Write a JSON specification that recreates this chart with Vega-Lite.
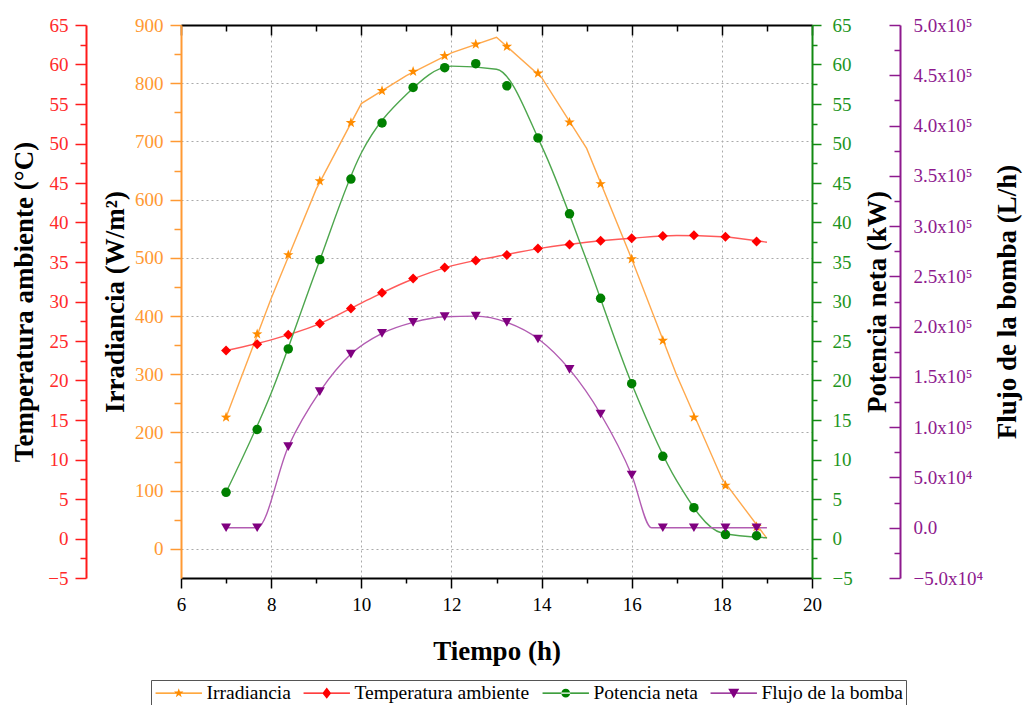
{
  "$schema": "https://vega.github.io/schema/vega-lite/v6.json",
  "width": 631,
  "height": 553,
  "autosize": {"type": "none"},
  "padding": {"left": 181, "top": 25, "right": 211, "bottom": 127},
  "background": "white",
  "config": {"view": {"stroke": null}, "font": "Liberation Serif",
    "axis": {"labelFont": "Liberation Serif", "titleFont": "Liberation Serif", "labelFontSize": 19},
    "legend": {"labelFont": "Liberation Serif"}},
  "datasets": {
    "lines": [
      {"serie": "Irradiancia", "t": 7, "v": 226}, {"serie": "Irradiancia", "t": 8, "v": 430}, {"serie": "Irradiancia", "t": 9, "v": 618},
      {"serie": "Irradiancia", "t": 10, "v": 765}, {"serie": "Irradiancia", "t": 11, "v": 813}, {"serie": "Irradiancia", "t": 12, "v": 852},
      {"serie": "Irradiancia", "t": 13, "v": 879}, {"serie": "Irradiancia", "t": 14, "v": 810}, {"serie": "Irradiancia", "t": 15, "v": 688},
      {"serie": "Irradiancia", "t": 16, "v": 498}, {"serie": "Irradiancia", "t": 17, "v": 298}, {"serie": "Irradiancia", "t": 18, "v": 121},
      {"serie": "Irradiancia", "t": 19, "v": 18},
      {"serie": "Temperatura ambiente", "t": 7, "v": 23.8}, {"serie": "Temperatura ambiente", "t": 8, "v": 25.15}, {"serie": "Temperatura ambiente", "t": 9, "v": 27.0},
      {"serie": "Temperatura ambiente", "t": 10, "v": 29.8}, {"serie": "Temperatura ambiente", "t": 11, "v": 32.5}, {"serie": "Temperatura ambiente", "t": 12, "v": 34.5},
      {"serie": "Temperatura ambiente", "t": 13, "v": 35.7}, {"serie": "Temperatura ambiente", "t": 14, "v": 36.75}, {"serie": "Temperatura ambiente", "t": 15, "v": 37.5},
      {"serie": "Temperatura ambiente", "t": 16, "v": 38.0}, {"serie": "Temperatura ambiente", "t": 17, "v": 38.35}, {"serie": "Temperatura ambiente", "t": 18, "v": 38.2},
      {"serie": "Temperatura ambiente", "t": 19, "v": 37.5},
      {"serie": "Potencia neta", "t": 7, "v": 5.85}, {"serie": "Potencia neta", "t": 8, "v": 18.4}, {"serie": "Potencia neta", "t": 9, "v": 34.0},
      {"serie": "Potencia neta", "t": 10, "v": 48.8}, {"serie": "Potencia neta", "t": 11, "v": 56.2}, {"serie": "Potencia neta", "t": 12, "v": 59.8},
      {"serie": "Potencia neta", "t": 13, "v": 59.4}, {"serie": "Potencia neta", "t": 14, "v": 49.7}, {"serie": "Potencia neta", "t": 15, "v": 35.2},
      {"serie": "Potencia neta", "t": 16, "v": 19.6}, {"serie": "Potencia neta", "t": 17, "v": 7.3}, {"serie": "Potencia neta", "t": 18, "v": 0.7},
      {"serie": "Potencia neta", "t": 19, "v": 0.1},
      {"serie": "Flujo de la bomba", "t": 7, "v": 0}, {"serie": "Flujo de la bomba", "t": 7.69, "v": 0}, {"serie": "Flujo de la bomba", "t": 8.38, "v": 80600},
      {"serie": "Flujo de la bomba", "t": 9.08, "v": 135300}, {"serie": "Flujo de la bomba", "t": 9.77, "v": 172700}, {"serie": "Flujo de la bomba", "t": 10.46, "v": 193300},
      {"serie": "Flujo de la bomba", "t": 11.15, "v": 204300}, {"serie": "Flujo de la bomba", "t": 11.85, "v": 209900}, {"serie": "Flujo de la bomba", "t": 12.54, "v": 210500},
      {"serie": "Flujo de la bomba", "t": 13.23, "v": 204300}, {"serie": "Flujo de la bomba", "t": 13.93, "v": 187700}, {"serie": "Flujo de la bomba", "t": 14.62, "v": 157500},
      {"serie": "Flujo de la bomba", "t": 15.31, "v": 113100}, {"serie": "Flujo de la bomba", "t": 16.0, "v": 52400}, {"serie": "Flujo de la bomba", "t": 16.44, "v": 0},
      {"serie": "Flujo de la bomba", "t": 19, "v": 0}
    ],
    "markers": [
      {"serie": "Irradiancia", "t": 7, "v": 226}, {"serie": "Irradiancia", "t": 7.69, "v": 369}, {"serie": "Irradiancia", "t": 8.38, "v": 505},
      {"serie": "Irradiancia", "t": 9.08, "v": 632}, {"serie": "Irradiancia", "t": 9.77, "v": 732}, {"serie": "Irradiancia", "t": 10.46, "v": 787},
      {"serie": "Irradiancia", "t": 11.15, "v": 820}, {"serie": "Irradiancia", "t": 11.85, "v": 847}, {"serie": "Irradiancia", "t": 12.54, "v": 867},
      {"serie": "Irradiancia", "t": 13.23, "v": 863}, {"serie": "Irradiancia", "t": 13.92, "v": 817}, {"serie": "Irradiancia", "t": 14.62, "v": 733},
      {"serie": "Irradiancia", "t": 15.31, "v": 627}, {"serie": "Irradiancia", "t": 16.0, "v": 498}, {"serie": "Irradiancia", "t": 16.69, "v": 358},
      {"serie": "Irradiancia", "t": 17.38, "v": 226}, {"serie": "Irradiancia", "t": 18.08, "v": 109}, {"serie": "Irradiancia", "t": 18.77, "v": 38},
      {"serie": "Temperatura ambiente", "t": 7, "v": 23.8}, {"serie": "Temperatura ambiente", "t": 7.69, "v": 24.6}, {"serie": "Temperatura ambiente", "t": 8.38, "v": 25.8},
      {"serie": "Temperatura ambiente", "t": 9.08, "v": 27.2}, {"serie": "Temperatura ambiente", "t": 9.77, "v": 29.1}, {"serie": "Temperatura ambiente", "t": 10.46, "v": 31.1},
      {"serie": "Temperatura ambiente", "t": 11.15, "v": 32.9}, {"serie": "Temperatura ambiente", "t": 11.85, "v": 34.3}, {"serie": "Temperatura ambiente", "t": 12.54, "v": 35.2},
      {"serie": "Temperatura ambiente", "t": 13.23, "v": 35.9}, {"serie": "Temperatura ambiente", "t": 13.92, "v": 36.7}, {"serie": "Temperatura ambiente", "t": 14.62, "v": 37.2},
      {"serie": "Temperatura ambiente", "t": 15.31, "v": 37.7}, {"serie": "Temperatura ambiente", "t": 16.0, "v": 38.0}, {"serie": "Temperatura ambiente", "t": 16.69, "v": 38.3},
      {"serie": "Temperatura ambiente", "t": 17.38, "v": 38.4}, {"serie": "Temperatura ambiente", "t": 18.08, "v": 38.2}, {"serie": "Temperatura ambiente", "t": 18.77, "v": 37.6},
      {"serie": "Potencia neta", "t": 7, "v": 5.85}, {"serie": "Potencia neta", "t": 7.69, "v": 13.8}, {"serie": "Potencia neta", "t": 8.38, "v": 24.0},
      {"serie": "Potencia neta", "t": 9.08, "v": 35.3}, {"serie": "Potencia neta", "t": 9.77, "v": 45.5}, {"serie": "Potencia neta", "t": 10.46, "v": 52.6},
      {"serie": "Potencia neta", "t": 11.15, "v": 57.1}, {"serie": "Potencia neta", "t": 11.85, "v": 59.6}, {"serie": "Potencia neta", "t": 12.54, "v": 60.1},
      {"serie": "Potencia neta", "t": 13.23, "v": 57.3}, {"serie": "Potencia neta", "t": 13.92, "v": 50.7}, {"serie": "Potencia neta", "t": 14.62, "v": 41.1},
      {"serie": "Potencia neta", "t": 15.31, "v": 30.4}, {"serie": "Potencia neta", "t": 16.0, "v": 19.6}, {"serie": "Potencia neta", "t": 16.69, "v": 10.4},
      {"serie": "Potencia neta", "t": 17.38, "v": 3.9}, {"serie": "Potencia neta", "t": 18.08, "v": 0.5}, {"serie": "Potencia neta", "t": 18.77, "v": 0.35},
      {"serie": "Flujo de la bomba", "t": 7, "v": 0}, {"serie": "Flujo de la bomba", "t": 7.69, "v": 0}, {"serie": "Flujo de la bomba", "t": 8.38, "v": 80600},
      {"serie": "Flujo de la bomba", "t": 9.08, "v": 135300}, {"serie": "Flujo de la bomba", "t": 9.77, "v": 172700}, {"serie": "Flujo de la bomba", "t": 10.46, "v": 193300},
      {"serie": "Flujo de la bomba", "t": 11.15, "v": 204300}, {"serie": "Flujo de la bomba", "t": 11.85, "v": 209900}, {"serie": "Flujo de la bomba", "t": 12.54, "v": 210500},
      {"serie": "Flujo de la bomba", "t": 13.23, "v": 204300}, {"serie": "Flujo de la bomba", "t": 13.92, "v": 187700}, {"serie": "Flujo de la bomba", "t": 14.62, "v": 157500},
      {"serie": "Flujo de la bomba", "t": 15.31, "v": 113100}, {"serie": "Flujo de la bomba", "t": 16.0, "v": 52400}, {"serie": "Flujo de la bomba", "t": 16.69, "v": 0},
      {"serie": "Flujo de la bomba", "t": 17.38, "v": 0}, {"serie": "Flujo de la bomba", "t": 18.08, "v": 0}, {"serie": "Flujo de la bomba", "t": 18.77, "v": 0}
    ]
  },
  "layer": [
    {
      "layer": [
        {
          "data": {"name": "lines"},
          "transform": [{"filter": "datum.serie === 'Irradiancia'"}],
          "mark": {"type": "line", "interpolate": "linear", "stroke": "#FFA94D", "strokeWidth": 1.4},
          "encoding": {
            "x": {"field": "t", "type": "quantitative", "scale": {"domain": [6, 20], "nice": false, "zero": false},
              "axis": {"orient": "bottom", "values": [6,7,8,9,10,11,12,13,14,15,16,17,18,19,20],
                "labelExpr": "datum.value % 2 === 0 ? datum.label : ''",
                "tickSize": {"condition": {"test": "datum.value % 2 === 0", "value": 10}, "value": 5},
                "tickColor": "black", "tickWidth": 1.5, "domainColor": "black", "domainWidth": 2,
                "labelFont": "Liberation Serif", "labelFontSize": 19, "labelColor": "black", "labelPadding": 7,
                "labelOverlap": false, "labelFlush": false,
                "title": "Tiempo (h)", "titleFont": "Liberation Serif", "titleFontSize": 27, "titleFontWeight": "bold", "titleColor": "black", "titlePadding": 24,
                "grid": true, "gridColor": "#AAAAAA", "gridDash": [2, 3], "gridWidth": 1,
                "gridOpacity": {"condition": {"test": "datum.value % 2 === 0 && datum.value > 6 && datum.value < 20", "value": 1}, "value": 0}}},
            "y": {"field": "v", "type": "quantitative", "scale": {"domain": [-50, 900], "nice": false, "zero": false},
              "axis": {"orient": "left", "offset": 0, "values": [0,50,100,150,200,250,300,350,400,450,500,550,600,650,700,750,800,850,900],
                "labelExpr": "datum.value % 100 === 0 ? datum.label : ''",
                "tickSize": {"condition": {"test": "datum.value % 100 === 0", "value": 11}, "value": 7},
                "tickColor": "#FF9933", "tickWidth": 1.5, "domainColor": "#FF9933", "domainWidth": 2,
                "labelFont": "Liberation Serif", "labelFontSize": 19, "labelColor": "#FF9933", "labelPadding": 7, "labelOverlap": false,
                "title": "Irradiancia (W/m²)", "titleFont": "Liberation Serif", "titleFontSize": 27, "titleFontWeight": "bold", "titleColor": "black", "titlePadding": 5,
                "grid": true, "gridColor": "#AAAAAA", "gridDash": [2, 3], "gridWidth": 1,
                "gridOpacity": {"condition": {"test": "datum.value % 100 === 0 && datum.value < 900", "value": 1}, "value": 0}}}
          }
        },
        {
          "data": {"name": "markers"},
          "transform": [{"filter": "datum.serie === 'Irradiancia'"}],
          "mark": {"type": "point", "filled": true, "opacity": 1, "color": "#FF8C00", "size": 120,
            "shape": "M0,-1L0.235,-0.324L0.951,-0.309L0.38,0.124L0.588,0.809L0,0.4L-0.588,0.809L-0.38,0.124L-0.951,-0.309L-0.235,-0.324Z"},
          "encoding": {
            "x": {"field": "t", "type": "quantitative", "scale": {"domain": [6, 20], "nice": false, "zero": false}, "axis": null},
            "y": {"field": "v", "type": "quantitative", "scale": {"domain": [-50, 900], "nice": false, "zero": false}, "axis": null}
          }
        },
        {
          "data": {"name": "markers"},
          "transform": [{"filter": "datum.serie === 'Irradiancia'"}],
          "mark": {"type": "point", "filled": true, "opacity": 0},
          "encoding": {
            "x": {"field": "t", "type": "quantitative", "scale": {"domain": [6, 20], "nice": false, "zero": false}, "axis": null},
            "y": {"field": "v", "type": "quantitative", "scale": {"domain": [-50, 900], "nice": false, "zero": false}, "axis": null},
            "color": {"field": "serie", "type": "nominal",
              "scale": {"domain": ["Irradiancia", "Temperatura ambiente", "Potencia neta", "Flujo de la bomba"], "range": ["#FF8C00", "#FF0000", "#008000", "#800080"]},
              "legend": {"orient": "none", "legendX": -30, "legendY": 655, "direction": "horizontal", "title": null,
                "symbolSize": 256, "symbolOpacity": 1, "symbolOffset": 15, "labelOffset": 18, "labelFont": "Liberation Serif", "labelFontSize": 19.5, "labelColor": "black",
                "labelLimit": 400, "columnPadding": 9, "padding": 3, "strokeColor": "#555555", "fillColor": "white"}},
            "shape": {"field": "serie", "type": "nominal",
              "scale": {"domain": ["Irradiancia", "Temperatura ambiente", "Potencia neta", "Flujo de la bomba"],
                "range": ["M-2.9,-0.08H2.9V0.08H-2.9ZM0,-0.62L0.146,-0.2L0.59,-0.19L0.236,0.077L0.365,0.5L0,0.248L-0.365,0.5L-0.236,0.077L-0.59,-0.19L-0.146,-0.2Z",
                  "M-2.9,-0.08H2.9V0.08H-2.9ZM0,-0.69L0.55,0L0,0.69L-0.55,0Z",
                  "M-2.9,-0.08H2.9V0.08H-2.9ZM-0.55,0A0.55,0.55,0,1,0,0.55,0A0.55,0.55,0,1,0,-0.55,0Z",
                  "M-2.9,-0.08H2.9V0.08H-2.9ZM-0.69,-0.55L0.69,-0.55L0,0.65Z"]},
              "legend": {"orient": "none", "legendX": -30, "legendY": 655, "direction": "horizontal", "title": null,
                "symbolSize": 256, "symbolOpacity": 1, "symbolOffset": 15, "labelOffset": 18, "labelFont": "Liberation Serif", "labelFontSize": 19.5, "labelColor": "black",
                "labelLimit": 400, "columnPadding": 9, "padding": 3, "strokeColor": "#555555", "fillColor": "white"}}
          }
        }
      ],
      "resolve": {"axis": {"x": "independent", "y": "independent"}}
    },
    {
      "layer": [
        {
          "data": {"name": "lines"},
          "transform": [{"filter": "datum.serie === 'Temperatura ambiente'"}],
          "mark": {"type": "line", "interpolate": "monotone", "stroke": "#FF5A5A", "strokeWidth": 1.4},
          "encoding": {
            "x": {"field": "t", "type": "quantitative", "scale": {"domain": [6, 20], "nice": false, "zero": false},
              "axis": {"orient": "top", "values": [6,7,8,9,10,11,12,13,14,15,16,17,18,19,20], "labels": false, "title": null, "grid": false,
                "tickSize": {"condition": {"test": "datum.value % 2 === 0", "value": -10}, "value": -6},
                "tickColor": "black", "tickWidth": 1.5, "domainColor": "black", "domainWidth": 2}},
            "y": {"field": "v", "type": "quantitative", "scale": {"domain": [-5, 65], "nice": false, "zero": false},
              "axis": {"orient": "left", "offset": 95, "values": [-5,-2.5,0,2.5,5,7.5,10,12.5,15,17.5,20,22.5,25,27.5,30,32.5,35,37.5,40,42.5,45,47.5,50,52.5,55,57.5,60,62.5,65],
                "labelExpr": "datum.value % 5 === 0 ? datum.label : ''",
                "tickSize": {"condition": {"test": "datum.value % 5 === 0", "value": 11}, "value": 6},
                "tickColor": "#FF1A1A", "tickWidth": 1.5, "domainColor": "#FF1A1A", "domainWidth": 2,
                "labelFont": "Liberation Serif", "labelFontSize": 19, "labelColor": "#FF2A2A", "labelPadding": 7, "labelOverlap": false,
                "title": "Temperatura ambiente (°C)", "titleFont": "Liberation Serif", "titleFontSize": 27, "titleFontWeight": "bold", "titleColor": "black", "titlePadding": 9,
                "grid": false}}
          }
        },
        {
          "data": {"name": "markers"},
          "transform": [{"filter": "datum.serie === 'Temperatura ambiente'"}],
          "mark": {"type": "point", "filled": true, "opacity": 1, "color": "#FF0000", "size": 100, "shape": "diamond"},
          "encoding": {
            "x": {"field": "t", "type": "quantitative", "scale": {"domain": [6, 20], "nice": false, "zero": false}, "axis": null},
            "y": {"field": "v", "type": "quantitative", "scale": {"domain": [-5, 65], "nice": false, "zero": false}, "axis": null}
          }
        }
      ],
      "resolve": {"axis": {"x": "independent", "y": "independent"}}
    },
    {
      "layer": [
        {
          "data": {"name": "lines"},
          "transform": [{"filter": "datum.serie === 'Potencia neta'"}],
          "mark": {"type": "line", "interpolate": "monotone", "stroke": "#4DA64D", "strokeWidth": 1.4},
          "encoding": {
            "x": {"field": "t", "type": "quantitative", "scale": {"domain": [6, 20], "nice": false, "zero": false}, "axis": null},
            "y": {"field": "v", "type": "quantitative", "scale": {"domain": [-5, 65], "nice": false, "zero": false},
              "axis": {"orient": "right", "offset": 0, "values": [-5,-2.5,0,2.5,5,7.5,10,12.5,15,17.5,20,22.5,25,27.5,30,32.5,35,37.5,40,42.5,45,47.5,50,52.5,55,57.5,60,62.5,65],
                "labelExpr": "datum.value % 5 === 0 ? datum.label : ''",
                "tickSize": {"condition": {"test": "datum.value % 5 === 0", "value": 9}, "value": 5},
                "tickColor": "#128A12", "tickWidth": 1.5, "domainColor": "#128A12", "domainWidth": 2,
                "labelFont": "Liberation Serif", "labelFontSize": 19, "labelColor": "#1E951E", "labelPadding": 11, "labelOverlap": false,
                "title": "Potencia neta (kW)", "titleFont": "Liberation Serif", "titleFontSize": 27, "titleFontWeight": "bold", "titleColor": "black", "titlePadding": 12,
                "titleAngle": 270, "titleBaseline": "top",
                "grid": false}}
          }
        },
        {
          "data": {"name": "markers"},
          "transform": [{"filter": "datum.serie === 'Potencia neta'"}],
          "mark": {"type": "point", "filled": true, "opacity": 1, "color": "#008000", "size": 90, "shape": "circle"},
          "encoding": {
            "x": {"field": "t", "type": "quantitative", "scale": {"domain": [6, 20], "nice": false, "zero": false}, "axis": null},
            "y": {"field": "v", "type": "quantitative", "scale": {"domain": [-5, 65], "nice": false, "zero": false}, "axis": null}
          }
        }
      ],
      "resolve": {"axis": {"x": "independent", "y": "independent"}}
    },
    {
      "layer": [
        {
          "data": {"name": "lines"},
          "transform": [{"filter": "datum.serie === 'Flujo de la bomba'"}],
          "mark": {"type": "line", "interpolate": "monotone", "stroke": "#B25CB2", "strokeWidth": 1.4},
          "encoding": {
            "x": {"field": "t", "type": "quantitative", "scale": {"domain": [6, 20], "nice": false, "zero": false}, "axis": null},
            "y": {"field": "v", "type": "quantitative", "scale": {"domain": [-50000, 500000], "nice": false, "zero": false},
              "axis": {"orient": "right", "offset": 88,
                "values": [-50000,-25000,0,25000,50000,75000,100000,125000,150000,175000,200000,225000,250000,275000,300000,325000,350000,375000,400000,425000,450000,475000,500000],
                "labelExpr": "datum.value % 50000 !== 0 ? '' : (datum.value === 0 ? '0.0' : (abs(datum.value) < 100000 ? format(datum.value / 10000, '.1f') + 'x10⁴' : format(datum.value / 100000, '.1f') + 'x10⁵'))",
                "tickSize": {"condition": {"test": "datum.value % 50000 === 0", "value": -11}, "value": -6},
                "tickColor": "#8E1A8E", "tickWidth": 1.5, "domainColor": "#8E1A8E", "domainWidth": 2,
                "labelFont": "Liberation Serif", "labelFontSize": 19, "labelColor": "#8E1A8E", "labelPadding": 24, "labelOverlap": false,
                "title": "Flujo de la bomba (L/h)", "titleFont": "Liberation Serif", "titleFontSize": 27, "titleFontWeight": "bold", "titleColor": "black", "titlePadding": 12,
                "titleAngle": 270, "titleBaseline": "top",
                "grid": false}}
          }
        },
        {
          "data": {"name": "markers"},
          "transform": [{"filter": "datum.serie === 'Flujo de la bomba'"}],
          "mark": {"type": "point", "filled": true, "opacity": 1, "color": "#800080", "size": 100, "shape": "triangle-down"},
          "encoding": {
            "x": {"field": "t", "type": "quantitative", "scale": {"domain": [6, 20], "nice": false, "zero": false}, "axis": null},
            "y": {"field": "v", "type": "quantitative", "scale": {"domain": [-50000, 500000], "nice": false, "zero": false}, "axis": null}
          }
        }
      ],
      "resolve": {"axis": {"x": "independent", "y": "independent"}}
    }
  ],
  "resolve": {"scale": {"y": "independent"}, "axis": {"x": "independent", "y": "independent"}}
}
